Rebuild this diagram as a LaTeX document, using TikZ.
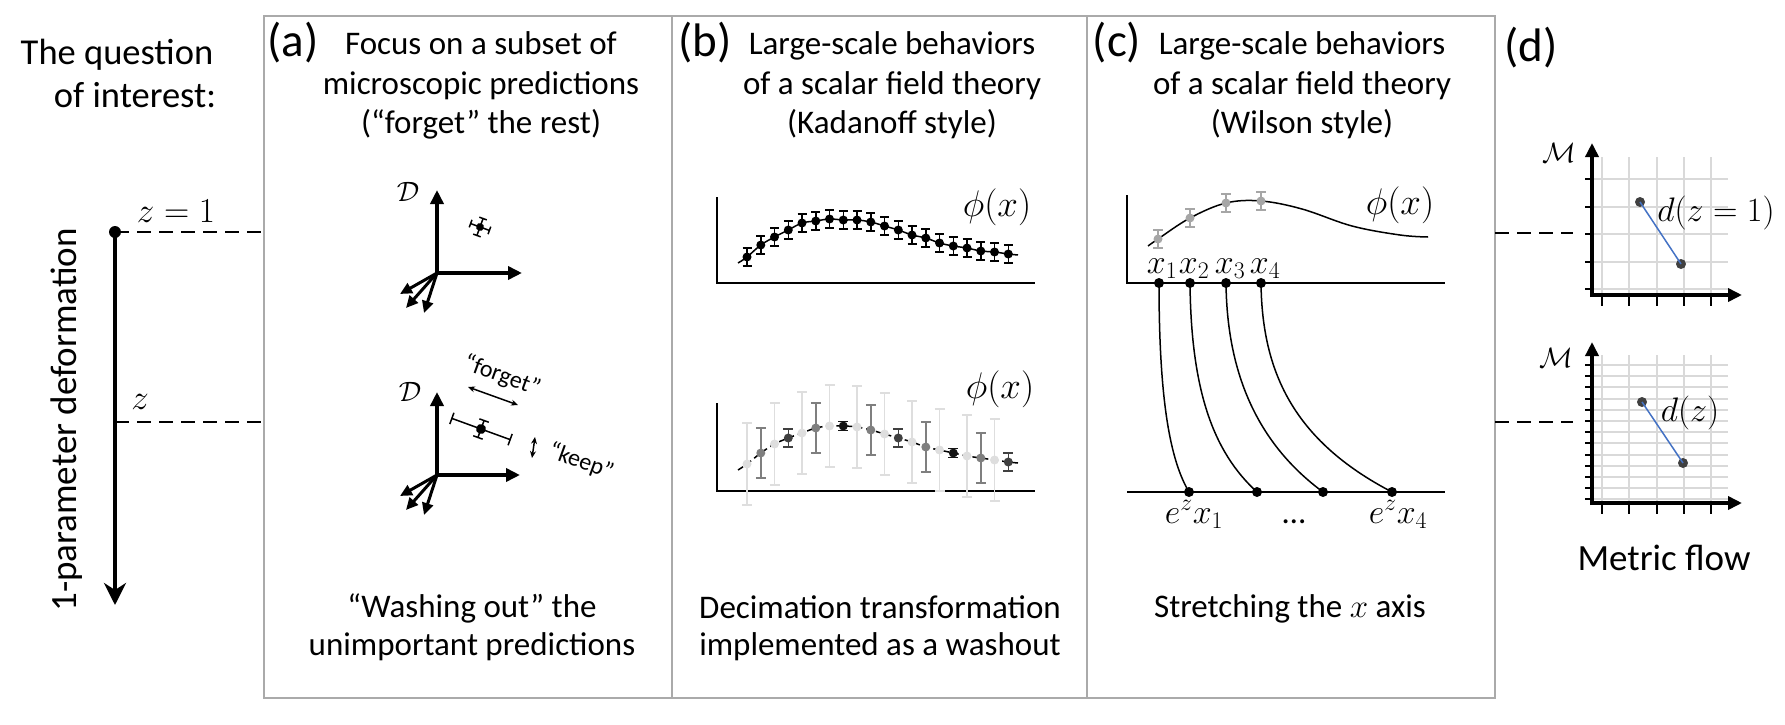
\documentclass[tikz,border=0pt]{standalone}
\usepackage{fix-cm}
\usepackage{fontspec}
\setmainfont{Carlito}
\usetikzlibrary{arrows.meta}
\definecolor{boxgray}{RGB}{170,170,170}
\definecolor{gridgray}{RGB}{217,217,217}
\definecolor{ptlight}{RGB}{222,222,222}
\definecolor{ptmid}{RGB}{127,127,127}
\definecolor{ptdark}{RGB}{64,64,64}
\definecolor{ptblack}{RGB}{20,20,20}
\definecolor{ptgray}{RGB}{166,166,166}
\definecolor{linkblue}{RGB}{68,114,196}
\newcommand\ftitle{\fontsize{33}{39}\selectfont}
\newcommand\fside{\fontsize{36.5}{43}\selectfont}
\newcommand\fbig{\fontsize{37}{44}\selectfont}
\newcommand\flabel{\fontsize{47}{55}\selectfont}
\newcommand\fmath{\fontsize{35}{41}\selectfont}
\newcommand\fsub{\fontsize{34}{40}\selectfont}
\newcommand\fphi{\fontsize{37}{43}\selectfont}
\newcommand\fcal{\fontsize{28}{33}\selectfont}
\newcommand\fsmall{\fontsize{24}{29}\selectfont}
\begin{document}
\begin{tikzpicture}[x=1pt,y=-1pt,
  txt/.style={font=\ftitle, anchor=base, inner sep=0pt},
  side/.style={font=\fside, anchor=base, inner sep=0pt},
  plabel/.style={font=\flabel, anchor=base, inner sep=0pt},
  mlab/.style={inner sep=0pt, anchor=center},
  guide/.style={line width=1.5pt, dash pattern=on 14pt off 8pt},
  bigax/.style={line width=4pt, -{Triangle[length=14pt,width=13pt]}},
  diag/.style={line width=3pt, -{Triangle[length=12pt,width=11pt]}},
  thinax/.style={line width=2pt},
  ebar/.style={line width=1.5pt},
  pdot/.style={circle, inner sep=0pt, minimum size=9pt, fill=#1},
  pdot/.default=black,
  gridl/.style={gridgray, line width=2pt},
  tickl/.style={line width=2pt},
  curv/.style={line width=1.5pt},
  twohead/.style={line width=1.5pt, {Stealth[length=7pt,width=6pt]}-{Stealth[length=7pt,width=6pt]}},
]
\useasboundingbox (0,0) rectangle (1785,725);

% ---------- frame ----------
\draw[boxgray, line width=2pt] (264,16) rectangle (1495,698);
\draw[boxgray, line width=2pt] (672,16) -- (672,698) (1087,16) -- (1087,698);

% ---------- left column ----------
\node[side] (q1) at (117,65) {The question};
\node[side] (q2) at (135,107) {of interest:};
\node[font=\fbig, anchor=base, inner sep=0pt, rotate=90] (deform) at (76,420) {1-parameter deformation};
\node[pdot, minimum size=12pt] (ztop) at (115,232) {};
\coordinate (zmid) at (115,422);
\coordinate (zbot) at (115,605);
\draw[line width=4pt, -{Stealth[length=22pt,width=22pt,inset=7pt]}] (ztop.center) -- (zbot);
\coordinate (aL1) at (264,232);
\coordinate (aL2) at (264,422);
\draw[guide] (ztop.center) -- (aL1);
\draw[guide] (zmid) -- (aL2);
\node[mlab, font=\fmath] (z1lab) at (176,211) {$z=1$};
\node[mlab, font=\fmath] (zlab) at (140,402) {$z$};

% ---------- panel (a) ----------
\node[plabel] (la) at (293,57) {(a)};
\node[txt] (ta1) at (481,55) {Focus on a subset of};
\node[txt] (ta2) at (481,94) {microscopic predictions};
\node[txt] (ta3) at (481,133) {(“forget” the rest)};

\coordinate (ao1) at (437,273);
\coordinate (ay1) at (437,190);
\coordinate (ax1) at (522,273);
\draw[bigax] (437,275) -- (ay1);
\draw[bigax] (435,273) -- (ax1);
\draw[diag] (ao1) -- (400,294);
\draw[diag] (ao1) -- (406,308);
\draw[diag] (ao1) -- (424,313);
\node[mlab, font=\fcal] (D1) at (408,192) {$\mathcal{D}$};
\begin{scope}[shift={(480,227)}, rotate=-20]
  \draw[ebar] (-10,0) -- (10,0) (0,-9) -- (0,9)
    (-10,-4) -- (-10,4) (10,-4) -- (10,4) (-4,-9) -- (4,-9) (-4,9) -- (4,9);
  \fill (0,0) circle (4);
\end{scope}

\coordinate (ao2) at (437,475);
\coordinate (ay2) at (437,392);
\coordinate (ax2) at (520,475);
\draw[bigax] (437,477) -- (ay2);
\draw[bigax] (435,475) -- (ax2);
\draw[diag] (ao2) -- (400,496);
\draw[diag] (ao2) -- (406,510);
\draw[diag] (ao2) -- (424,515);
\node[mlab, font=\fcal] (D2) at (410,392) {$\mathcal{D}$};
\begin{scope}[shift={(481,429)}, rotate=-20]
  \draw[ebar] (-31,0) -- (31,0) (0,-9) -- (0,9)
    (-31,-6) -- (-31,6) (31,-6) -- (31,6) (-5,-9) -- (5,-9) (-5,9) -- (5,9);
  \fill (0,0) circle (5);
\end{scope}
\coordinate (fg1) at (468,387);
\coordinate (fg2) at (518,405);
\draw[twohead] (fg1) -- (fg2);
\coordinate (kp1) at (535,437);
\coordinate (kp2) at (532,458);
\draw[twohead] (kp1) -- (kp2);
\node[font=\fsmall, inner sep=0pt, rotate=-20] (forget) at (502,376) {“forget”};
\node[font=\fsmall, inner sep=0pt, rotate=-20] (keep) at (581,462) {“keep”};

\node[txt] (ba1) at (472,617) {“Washing out” the};
\node[txt] (ba2) at (472,655) {unimportant predictions};

% ---------- panel (b) ----------
\node[plabel] (lb) at (705,57) {(b)};
\node[txt] (tb1) at (892,55) {Large-scale behaviors};
\node[txt] (tb2) at (892,94) {of a scalar field theory};
\node[txt] (tb3) at (892,133) {(Kadanoff style)};

\draw[thinax] (717,197) -- (717,283) -- (1035,283);
\node[mlab, font=\fphi] (phib1) at (997,207) {$\phi(x)$};
\draw[curv] plot[smooth, tension=0.6] coordinates {(738,263) (747,257) (760.8,245) (774.5,237) (788.3,230) (802,223) (815.8,221) (829.5,219) (843.3,220) (857,220) (870.8,222) (884.5,226) (898.3,230) (912,235) (925.8,238) (939.5,243) (953.3,246) (967,248) (980.8,251) (994.5,252) (1008.3,254) (1018,255)};
\foreach \x/\y [count=\i] in {747/257,760.8/245,774.5/237,788.3/230,802/223,815.8/221,829.5/219,843.3/220,857/220,870.8/222,884.5/226,898.3/230,912/235,925.8/238,939.5/243,953.3/246,967/248,980.8/251,994.5/252,1008.3/254}{
  \draw[ebar] (\x,\y-9) -- (\x,\y+9) (\x-4.5,\y-9) -- (\x+4.5,\y-9) (\x-4.5,\y+9) -- (\x+4.5,\y+9);
  \node[pdot] (kt\i) at (\x,\y) {};
}

\draw[thinax] (717,403) -- (717,491) -- (1035,491);
\node[mlab, font=\fphi] (phib2) at (1000,389) {$\phi(x)$};
\draw[curv, dash pattern=on 6pt off 4pt] plot[smooth, tension=0.6] coordinates {(738,470) (747,464) (760.8,453) (774.5,444) (788.3,438) (802,433) (815.8,428) (829.5,426) (843.3,426) (857,427) (870.8,430) (884.5,434) (898.3,438) (912,442) (925.8,447) (939.5,450) (953.3,453) (967,456) (980.8,458) (994.5,460) (1008.3,462) (1018,463)};
\foreach \x/\y/\c/\e in {747/464/ptlight/41,760.8/453/ptmid/25,774.5/444/ptlight/41,788.3/438/ptdark/9,802/433/ptlight/41,815.8/428/ptmid/25,829.5/426/ptlight/41,843.3/426/ptblack/4.5,857/427/ptlight/41,870.8/430/ptmid/25,884.5/434/ptlight/41,898.3/438/ptdark/9,912/442/ptlight/41,925.8/447/ptmid/25,939.5/450/ptlight/41,953.3/453/ptblack/4.5,967/456/ptlight/41,980.8/458/ptmid/25,994.5/460/ptlight/41,1008.3/462/ptdark/9}{
  \draw[ebar, \c] (\x,\y-\e) -- (\x,\y+\e) (\x-5,\y-\e) -- (\x+5,\y-\e) (\x-5,\y+\e) -- (\x+5,\y+\e);
}
\foreach \x/\y/\c [count=\i] in {747/464/ptlight,760.8/453/ptmid,774.5/444/ptlight,788.3/438/ptdark,802/433/ptlight,815.8/428/ptmid,829.5/426/ptlight,843.3/426/ptblack,857/427/ptlight,870.8/430/ptmid,884.5/434/ptlight,898.3/438/ptdark,912/442/ptlight,925.8/447/ptmid,939.5/450/ptlight,953.3/453/ptblack,967/456/ptlight,980.8/458/ptmid,994.5/460/ptlight,1008.3/462/ptdark}{
  \node[pdot=\c] (kb\i) at (\x,\y) {};
}

\node[txt] (bb1) at (880,618) {Decimation transformation};
\node[txt] (bb2) at (880,655) {implemented as a washout};

% ---------- panel (c) ----------
\node[plabel] (lc) at (1117,57) {(c)};
\node[txt] (tc1) at (1302,55) {Large-scale behaviors};
\node[txt] (tc2) at (1302,94) {of a scalar field theory};
\node[txt] (tc3) at (1302,133) {(Wilson style)};

\draw[thinax] (1127,195) -- (1127,283) -- (1445,283);
\node[mlab, font=\fphi] (phic) at (1400,205) {$\phi(x)$};
\draw[curv] plot[smooth, tension=0.6] coordinates {(1148,246) (1158,239) (1190,218) (1226,203) (1261,201) (1302,209) (1352,226) (1400,235) (1428,237)};
\foreach \x/\y [count=\i] in {1158/239,1190/218,1226/203,1261/201}{
  \draw[ebar, ptgray] (\x,\y-9) -- (\x,\y+9) (\x-5,\y-9) -- (\x+5,\y-9) (\x-5,\y+9) -- (\x+5,\y+9);
  \node[pdot=ptgray] (wp\i) at (\x,\y) {};
}
\draw[thinax] (1127,492) -- (1445,492);
\foreach \xa/\xb [count=\i] in {1159/1189,1190/1257,1226/1323,1261/1392}{
  \node[pdot, minimum size=10pt] (top\i) at (\xa,283) {};
  \node[pdot, minimum size=10pt] (bot\i) at (\xb,492) {};
}
\draw[curv] (top1.center) .. controls (1159,400) and (1170,460) .. (bot1.center);
\draw[curv] (top2.center) .. controls (1191,390) and (1213,452) .. (bot2.center);
\draw[curv] (top3.center) .. controls (1227,380) and (1262,447) .. (bot3.center);
\draw[curv] (top4.center) .. controls (1262,370) and (1292,440) .. (bot4.center);
\node[mlab, font=\fsub, anchor=base] (xl1) at (1162,273) {$x_1$};
\node[mlab, font=\fsub, anchor=base] (xl2) at (1194,273) {$x_2$};
\node[mlab, font=\fsub, anchor=base] (xl3) at (1230,273) {$x_3$};
\node[mlab, font=\fsub, anchor=base] (xl4) at (1265,273) {$x_4$};
\node[mlab, font=\fsub, anchor=base] (ex1) at (1194,523) {$e^z x_1$};
\node[font=\ftitle, inner sep=0pt, anchor=base] (exd) at (1294,523) {\ldots};
\node[mlab, font=\fsub, anchor=base] (ex4) at (1398,523) {$e^z x_4$};
\node[txt] (bc1) at (1290,617) {Stretching the $x$ axis};

% ---------- panel (d) ----------
\node[plabel] (ld) at (1531,62) {(d)};
\coordinate (dR1) at (1495,233);
\coordinate (dE1) at (1573,233);
\coordinate (dR2) at (1495,422);
\coordinate (dE2) at (1573,422);
\draw[guide] (dR1) -- (dE1);
\draw[guide] (dR2) -- (dE2);

% top metric plot
\foreach \gx in {1602,1629.3,1656.6,1684,1711.3}{
  \draw[gridl] (\gx,157) -- (\gx,295);
  \draw[tickl] (\gx,295) -- (\gx,306);
}
\foreach \gy in {179,206.5,234,261.5,289}{
  \draw[gridl] (1592,\gy) -- (1728,\gy);
  \draw[tickl] (1585,\gy) -- (1592,\gy);
}
\draw[bigax] (1592,297) -- (1592,143);
\draw[bigax] (1590,295) -- (1742,295);
\node[pdot=ptdark, minimum size=10pt] (m1a) at (1640,202) {};
\node[pdot=ptdark, minimum size=10pt] (m1b) at (1681,264) {};
\draw[linkblue, line width=1.5pt] (m1a.center) -- (m1b.center);
\node[mlab, font=\fcal] (M1) at (1559,153) {$\mathcal{M}$};
\node[mlab, font=\fsub] (d1) at (1716,213) {$d(z=1)$};

% bottom metric plot
\foreach \gx in {1602,1629.3,1656.6,1684,1711.3}{
  \draw[gridl] (\gx,355) -- (\gx,503);
  \draw[tickl] (\gx,503) -- (\gx,514);
}
\foreach \k in {0,...,12}{
  \draw[gridl] (1592,365+11.2*\k) -- (1728,365+11.2*\k);
  \draw[tickl] (1585,365+11.2*\k) -- (1592,365+11.2*\k);
}
\draw[bigax] (1592,505) -- (1592,342);
\draw[bigax] (1590,503) -- (1742,503);
\node[pdot=ptdark, minimum size=10pt] (m2a) at (1642,402) {};
\node[pdot=ptdark, minimum size=10pt] (m2b) at (1683,463) {};
\draw[linkblue, line width=1.5pt] (m2a.center) -- (m2b.center);
\node[mlab, font=\fcal] (M2) at (1556,358) {$\mathcal{M}$};
\node[mlab, font=\fsub] (d2) at (1690,413) {$d(z)$};

\node[side, font=\fbig] (mf) at (1664,570) {Metric flow};
\end{tikzpicture}
\end{document}
